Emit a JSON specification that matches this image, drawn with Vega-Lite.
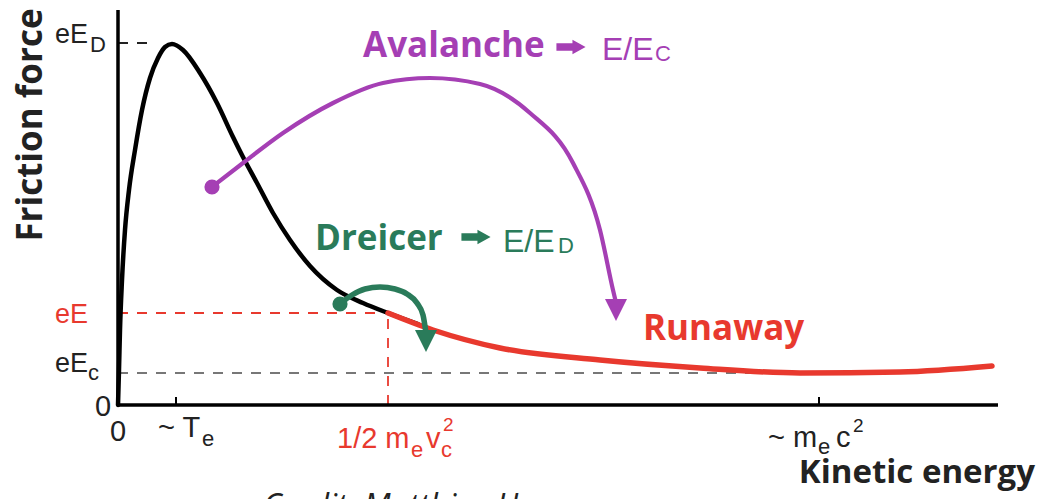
{
  "$schema": "https://vega.github.io/schema/vega-lite/v6.json",
  "width": 1040,
  "height": 499,
  "padding": 0,
  "autosize": {"type": "none"},
  "background": "white",
  "config": {"view": {"stroke": null}},
  "datasets": {
    "axes": [
      {"x": 0, "y": 0, "x2": 880, "y2": 0},
      {"x": 0, "y": 0, "x2": 0, "y2": 395}
    ],
    "ticks": [
      {"x": 58, "y": 0, "x2": 58, "y2": 8},
      {"x": 701, "y": 0, "x2": 701, "y2": 8}
    ],
    "guides": [
      {"x": 0, "y": 362, "x2": 38, "y2": 362, "role": "ink"},
      {"x": 0, "y": 32, "x2": 692, "y2": 32, "role": "gray"},
      {"x": 0, "y": 92, "x2": 270, "y2": 92, "role": "red"},
      {"x": 270, "y": 0, "x2": 270, "y2": 92, "role": "red"}
    ],
    "thermal": [
      {"x": 0, "y": 0}, {"x": 1, "y": 35}, {"x": 2, "y": 75}, {"x": 4, "y": 125},
      {"x": 7, "y": 175}, {"x": 11, "y": 215}, {"x": 17, "y": 255}, {"x": 24, "y": 295},
      {"x": 32, "y": 327}, {"x": 40, "y": 347}, {"x": 47, "y": 358}, {"x": 54, "y": 361},
      {"x": 65, "y": 355}, {"x": 82, "y": 332}, {"x": 99, "y": 302}, {"x": 115, "y": 268},
      {"x": 125, "y": 248}, {"x": 139, "y": 222}, {"x": 155, "y": 192}, {"x": 172, "y": 165},
      {"x": 192, "y": 139}, {"x": 219, "y": 115}, {"x": 245, "y": 102}, {"x": 270, "y": 92},
      {"x": 300, "y": 81}
    ],
    "runaway": [
      {"x": 270, "y": 92}, {"x": 315, "y": 75}, {"x": 382, "y": 57}, {"x": 482, "y": 45},
      {"x": 582, "y": 37}, {"x": 682, "y": 32}, {"x": 782, "y": 33}, {"x": 874, "y": 39}
    ],
    "avalanche": [
      {"i": 0, "x": 94, "y": 218}, {"i": 1, "x": 125, "y": 242}, {"i": 2, "x": 165, "y": 272},
      {"i": 3, "x": 215, "y": 302}, {"i": 4, "x": 265, "y": 322}, {"i": 5, "x": 312, "y": 327},
      {"i": 6, "x": 362, "y": 321}, {"i": 7, "x": 412, "y": 292}, {"i": 8, "x": 455, "y": 242},
      {"i": 9, "x": 482, "y": 175}, {"i": 10, "x": 495, "y": 115}, {"i": 11, "x": 499, "y": 98}
    ],
    "dreicer": [
      {"i": 0, "x": 222, "y": 101}, {"i": 1, "x": 234, "y": 110}, {"i": 2, "x": 247, "y": 116},
      {"i": 3, "x": 262, "y": 118}, {"i": 4, "x": 277, "y": 116}, {"i": 5, "x": 289, "y": 111},
      {"i": 6, "x": 299, "y": 102}, {"i": 7, "x": 305, "y": 90}, {"i": 8, "x": 308, "y": 72}
    ],
    "dots": [
      {"x": 94, "y": 218, "role": "purple"},
      {"x": 222, "y": 101, "role": "green"}
    ],
    "heads": [
      {"x": 498, "y": 95, "role": "purple"},
      {"x": 308, "y": 64, "role": "green"}
    ],
    "blockArrows": [
      {"x": 453, "y": 358, "role": "purple"},
      {"x": 358, "y": 168, "role": "green"}
    ],
    "boldText": [
      {"x": 245, "y": 348, "text": "Avalanche", "role": "purple"},
      {"x": 197, "y": 155, "text": "Dreicer", "role": "green"},
      {"x": 525, "y": 65, "text": "Runaway", "role": "red"}
    ],
    "xTitle": [
      {"x": 917, "y": -78, "text": "Kinetic energy", "role": "ink"}
    ],
    "yTitle": [
      {"x": -76, "y": 280, "text": "Friction force", "role": "ink"}
    ],
    "mathText": [
      {"x": -63, "y": 362, "text": "eE", "role": "ink", "level": "label"},
      {"x": -28, "y": 353, "text": "D", "role": "ink", "level": "sub"},
      {"x": -63, "y": 82, "text": "eE", "role": "red", "level": "label"},
      {"x": -63, "y": 33, "text": "eE", "role": "ink", "level": "label"},
      {"x": -30, "y": 25, "text": "c", "role": "ink", "level": "sub"},
      {"x": -23, "y": -11, "text": "0", "role": "ink", "level": "tick"},
      {"x": -8, "y": -36, "text": "0", "role": "ink", "level": "tick"},
      {"x": 40, "y": -32, "text": "~ T", "role": "ink", "level": "tick"},
      {"x": 84, "y": -41, "text": "e", "role": "ink", "level": "sub"},
      {"x": 219, "y": -43, "text": "1/2 m", "role": "red", "level": "tick"},
      {"x": 293, "y": -52, "text": "e", "role": "red", "level": "sub"},
      {"x": 308, "y": -43, "text": "v", "role": "red", "level": "tick"},
      {"x": 323, "y": -52, "text": "c", "role": "red", "level": "sub"},
      {"x": 325, "y": -26, "text": "2", "role": "red", "level": "sup"},
      {"x": 650, "y": -42, "text": "~ m", "role": "ink", "level": "tick"},
      {"x": 700, "y": -49, "text": "e", "role": "ink", "level": "sub"},
      {"x": 718, "y": -42, "text": "c", "role": "ink", "level": "tick"},
      {"x": 735, "y": -27, "text": "2", "role": "ink", "level": "sup"},
      {"x": 484, "y": 345, "text": "E/E", "role": "purple", "level": "title"},
      {"x": 537, "y": 344, "text": "C", "role": "purple", "level": "sub"},
      {"x": 385, "y": 153, "text": "E/E", "role": "green", "level": "title"},
      {"x": 440, "y": 152, "text": "D", "role": "green", "level": "sub"}
    ],
    "credit": [
      {"x": 145, "y": -112, "text": "Credit: Matthias Hoppe", "role": "ink"}
    ]
  },
  "encoding": {
    "x": {"field": "x", "type": "quantitative", "scale": {"domain": [-118, 922], "nice": false, "zero": false}, "axis": null},
    "y": {"field": "y", "type": "quantitative", "scale": {"domain": [-94, 405], "nice": false, "zero": false}, "axis": null}
  },
  "layer": [
    {
      "data": {"name": "guides"},
      "mark": {"type": "rule", "strokeDash": [10, 9], "strokeWidth": 1.8},
      "encoding": {
        "x2": {"field": "x2"},
        "y2": {"field": "y2"},
        "color": {"field": "role", "type": "nominal", "legend": null,
          "scale": {"domain": ["ink", "gray", "red", "purple", "green"], "range": ["#222222", "#777777", "#e8392e", "#a53fb4", "#2a7b5a"]}}
      }
    },
    {
      "data": {"name": "axes"},
      "mark": {"type": "rule", "color": "#000000", "strokeWidth": 3.5},
      "encoding": {"x2": {"field": "x2"}, "y2": {"field": "y2"}}
    },
    {
      "data": {"name": "ticks"},
      "mark": {"type": "rule", "color": "#000000", "strokeWidth": 2},
      "encoding": {"x2": {"field": "x2"}, "y2": {"field": "y2"}}
    },
    {
      "data": {"name": "thermal"},
      "mark": {"type": "line", "color": "#000000", "strokeWidth": 4.5, "interpolate": "monotone", "strokeCap": "round"},
      "encoding": {}
    },
    {
      "data": {"name": "runaway"},
      "mark": {"type": "line", "color": "#e8392e", "strokeWidth": 5.5, "interpolate": "monotone", "strokeCap": "round"},
      "encoding": {}
    },
    {
      "data": {"name": "avalanche"},
      "mark": {"type": "line", "color": "#a53fb4", "strokeWidth": 4.2, "interpolate": "monotone"},
      "encoding": {"order": {"field": "i", "type": "quantitative"}}
    },
    {
      "data": {"name": "dreicer"},
      "mark": {"type": "line", "color": "#2a7b5a", "strokeWidth": 5.5, "interpolate": "monotone"},
      "encoding": {"order": {"field": "i", "type": "quantitative"}}
    },
    {
      "data": {"name": "dots"},
      "mark": {"type": "point", "shape": "circle", "filled": true, "opacity": 1, "size": 230},
      "encoding": {
        "color": {"field": "role", "type": "nominal", "legend": null,
          "scale": {"domain": ["ink", "gray", "red", "purple", "green"], "range": ["#222222", "#777777", "#e8392e", "#a53fb4", "#2a7b5a"]}}
      }
    },
    {
      "data": {"name": "heads"},
      "mark": {"type": "point", "shape": "M-1,-1L1,-1L0,1Z", "filled": true, "opacity": 1, "size": 484},
      "encoding": {
        "color": {"field": "role", "type": "nominal", "legend": null,
          "scale": {"domain": ["ink", "gray", "red", "purple", "green"], "range": ["#222222", "#777777", "#e8392e", "#a53fb4", "#2a7b5a"]}}
      }
    },
    {
      "data": {"name": "blockArrows"},
      "mark": {"type": "point", "shape": "M-1,-0.26L0.1,-0.26L0.1,-0.5L1,0L0.1,0.5L0.1,0.26L-1,0.26Z", "filled": true, "opacity": 1, "size": 850},
      "encoding": {
        "color": {"field": "role", "type": "nominal", "legend": null,
          "scale": {"domain": ["ink", "gray", "red", "purple", "green"], "range": ["#222222", "#777777", "#e8392e", "#a53fb4", "#2a7b5a"]}}
      }
    },
    {
      "data": {"name": "boldText"},
      "mark": {"type": "text", "font": "Open Sans", "fontWeight": "bold", "fontSize": 35, "align": "left", "baseline": "alphabetic"},
      "encoding": {
        "text": {"field": "text"},
        "color": {"field": "role", "type": "nominal", "legend": null,
          "scale": {"domain": ["ink", "gray", "red", "purple", "green"], "range": ["#222222", "#777777", "#e8392e", "#a53fb4", "#2a7b5a"]}}
      }
    },
    {
      "data": {"name": "xTitle"},
      "mark": {"type": "text", "font": "Open Sans", "fontWeight": "bold", "fontSize": 33, "align": "right", "baseline": "alphabetic"},
      "encoding": {
        "text": {"field": "text"},
        "color": {"field": "role", "type": "nominal", "legend": null,
          "scale": {"domain": ["ink", "gray", "red", "purple", "green"], "range": ["#222222", "#777777", "#e8392e", "#a53fb4", "#2a7b5a"]}}
      }
    },
    {
      "data": {"name": "yTitle"},
      "mark": {"type": "text", "font": "Open Sans", "fontWeight": "bold", "fontSize": 35, "align": "center", "baseline": "alphabetic", "angle": 270},
      "encoding": {
        "text": {"field": "text"},
        "color": {"field": "role", "type": "nominal", "legend": null,
          "scale": {"domain": ["ink", "gray", "red", "purple", "green"], "range": ["#222222", "#777777", "#e8392e", "#a53fb4", "#2a7b5a"]}}
      }
    },
    {
      "data": {"name": "mathText"},
      "mark": {"type": "text", "font": "Liberation Sans", "align": "left", "baseline": "alphabetic"},
      "encoding": {
        "text": {"field": "text"},
        "size": {"field": "level", "type": "nominal", "legend": null,
          "scale": {"type": "ordinal", "domain": ["label", "sub", "tick", "sup", "title"], "range": [27, 22, 29, 19, 32]}},
        "color": {"field": "role", "type": "nominal", "legend": null,
          "scale": {"domain": ["ink", "gray", "red", "purple", "green"], "range": ["#222222", "#777777", "#e8392e", "#a53fb4", "#2a7b5a"]}}
      }
    },
    {
      "data": {"name": "credit"},
      "mark": {"type": "text", "font": "Open Sans", "fontStyle": "italic", "fontSize": 32, "align": "left", "baseline": "alphabetic"},
      "encoding": {
        "text": {"field": "text"},
        "color": {"field": "role", "type": "nominal", "legend": null,
          "scale": {"domain": ["ink", "gray", "red", "purple", "green"], "range": ["#222222", "#777777", "#e8392e", "#a53fb4", "#2a7b5a"]}}
      }
    }
  ]
}
